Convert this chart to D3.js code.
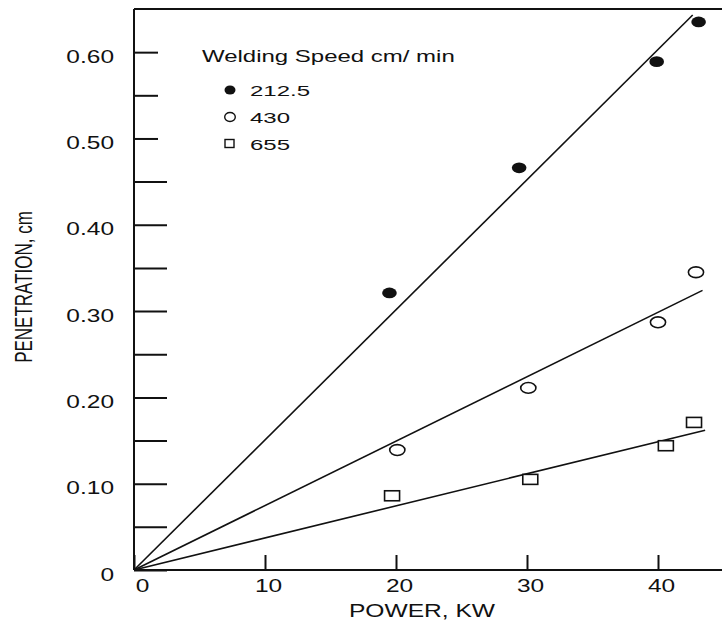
<!DOCTYPE html>
<html>
<head>
  <meta charset="utf-8">
  <title>Penetration vs Power</title>
  <script src="https://d3js.org/d3.v7.min.js"></script>
  <style>
    body { margin: 0; background: #fff; }
    text { font-family: "Liberation Sans", Arial, sans-serif; fill: #111; }
  </style>
</head>
<body>
<svg class="chart"></svg>
<script>

// values
var speeds = ["212.5", "430", "655"];
var power212 = [19.5, 29.4, 39.9, 43.1];
var pen212   = [0.321, 0.466, 0.589, 0.635];
var power430 = [20.1, 30.1, 40.0, 42.9];
var pen430   = [0.139, 0.211, 0.287, 0.345];
var power655 = [19.7, 30.25, 40.6, 42.75];
var pen655   = [0.086, 0.105, 0.144, 0.171];
// straight fit lines drawn from the origin to these end points
var fitEndPower = [42.65, 43.4, 43.6];
var fitEndPen   = [0.643, 0.324, 0.162];

var xTicks = [0, 10, 20, 30, 40];
var yTicks = [0, 0.05, 0.1, 0.15, 0.2, 0.25, 0.3, 0.35, 0.4, 0.45, 0.5, 0.55, 0.6];

var W = 722, H = 624;
var sx = 1.4; // the scan is stretched sideways, so is the lettering

var svg = d3.select(".chart").attr("width", W).attr("height", H);

var x = d3.scaleLinear().domain([0, 40]).range([134, 658]);
var y = d3.scaleLinear().domain([0, 0.65]).range([570, 9]);

// y axis, ticks pointing into the plot
var yAxis = svg.append("g")
    .attr("transform", "translate(" + x(0) + ",0)")
    .call(d3.axisLeft(y).tickValues(yTicks).tickSize(-33)
      .tickFormat(function(d) {
        var r = Math.round(d * 100);
        if (r % 10 !== 0) return "";
        return d === 0 ? "0" : d3.format(".2f")(d);
      }));
yAxis.select(".domain").remove();
yAxis.selectAll("line")
    .attr("stroke", "#111").attr("stroke-width", 2)
    .attr("x2", function(d) { return d >= 0.5 ? 24 : 33; });
yAxis.selectAll("text")
    .attr("x", -20 / sx).attr("dy", 0).attr("y", 10)
    .attr("text-anchor", "end")
    .attr("transform", "scale(" + sx + ",1)")
    .style("font-size", "17.5px");

// x axis, ticks pointing up
var xAxis = svg.append("g")
    .attr("transform", "translate(0," + y(0) + ")")
    .call(d3.axisBottom(x).tickValues(xTicks).tickSize(-15).tickFormat(d3.format("d")));
xAxis.select(".domain").remove();
xAxis.selectAll("line").attr("stroke", "#111").attr("stroke-width", 2);
xAxis.selectAll("text")
    .attr("x", function(d) { return (d === 0 ? 8 : 3) / sx; })
    .attr("y", 22).attr("dy", 0)
    .attr("text-anchor", "middle")
    .attr("transform", "scale(" + sx + ",1)")
    .style("font-size", "17.5px");

// frame: left, bottom and top edges (the right one is off the scan)
var frame = [
  [[x(0), y(0.65)], [x(0), y(0)]],
  [[x(0), y(0)], [W, y(0)]],
  [[x(0), y(0.65)], [W, y(0.65)]]
];
svg.selectAll(".frame").data(frame).enter().append("line")
    .attr("class", "frame")
    .attr("x1", function(d) { return d[0][0]; }).attr("y1", function(d) { return d[0][1]; })
    .attr("x2", function(d) { return d[1][0]; }).attr("y2", function(d) { return d[1][1]; })
    .attr("stroke", "#111").attr("stroke-width", 2);

// axis titles
svg.append("text")
    .attr("transform", "translate(422,617) scale(1.33,1)")
    .attr("text-anchor", "middle")
    .style("font-size", "18.5px")
    .text("POWER, KW");

svg.append("text")
    .attr("transform", "translate(32,287) scale(" + sx + ",1) rotate(-90)")
    .attr("text-anchor", "middle")
    .style("font-size", "17px")
    .text("PENETRATION, cm");

// fit lines
svg.selectAll(".fit").data(fitEndPower).enter().append("line")
    .attr("class", "fit")
    .attr("x1", x(0)).attr("y1", y(0))
    .attr("x2", function(d) { return x(d); })
    .attr("y2", function(d, i) { return y(fitEndPen[i]); })
    .attr("stroke", "#111").attr("stroke-width", 1.6);

// points
var pts212 = power212.map(function(p, i) { return {p: p, v: pen212[i]}; });
var pts430 = power430.map(function(p, i) { return {p: p, v: pen430[i]}; });
var pts655 = power655.map(function(p, i) { return {p: p, v: pen655[i]}; });

svg.selectAll(".s212").data(pts212).enter().append("ellipse")
    .attr("class", "s212")
    .attr("cx", function(d) { return x(d.p); }).attr("cy", function(d) { return y(d.v); })
    .attr("rx", 7.3).attr("ry", 5.4).attr("fill", "#111");

svg.selectAll(".s430").data(pts430).enter().append("ellipse")
    .attr("class", "s430")
    .attr("cx", function(d) { return x(d.p); }).attr("cy", function(d) { return y(d.v); })
    .attr("rx", 7.6).attr("ry", 5.4)
    .attr("fill", "#fff").attr("stroke", "#111").attr("stroke-width", 1.6);

svg.selectAll(".s655").data(pts655).enter().append("rect")
    .attr("class", "s655")
    .attr("x", function(d) { return x(d.p) - 7.5; }).attr("y", function(d) { return y(d.v) - 5; })
    .attr("width", 15).attr("height", 10)
    .attr("fill", "#fff").attr("stroke", "#111").attr("stroke-width", 1.6);

// legend
var legend = svg.append("g").attr("transform", "translate(202,62)");
legend.append("text")
    .attr("transform", "scale(1.5,1)")
    .style("font-size", "16px")
    .text("Welding Speed cm/ min");

var item = legend.selectAll(".item").data(speeds).enter().append("g")
    .attr("class", "item")
    .attr("transform", function(d, i) { return "translate(0," + (34 + i * 27) + ")"; });

item.append("text")
    .attr("x", 48 / 1.55)
    .attr("transform", "scale(1.55,1)")
    .style("font-size", "15.5px")
    .text(function(d) { return d; });

item.each(function(d, i) {
  var g = d3.select(this);
  if (i === 0) {
    g.append("ellipse").attr("cx", 28).attr("cy", -6).attr("rx", 5.5).attr("ry", 4.6).attr("fill", "#111");
  } else if (i === 1) {
    g.append("ellipse").attr("cx", 28).attr("cy", -6).attr("rx", 5.3).attr("ry", 4.5)
      .attr("fill", "none").attr("stroke", "#111").attr("stroke-width", 1.4);
  } else {
    g.append("rect").attr("x", 23).attr("y", -10.5).attr("width", 9).attr("height", 8)
      .attr("fill", "none").attr("stroke", "#111").attr("stroke-width", 1.4);
  }
});

</script>
</body>
</html>
